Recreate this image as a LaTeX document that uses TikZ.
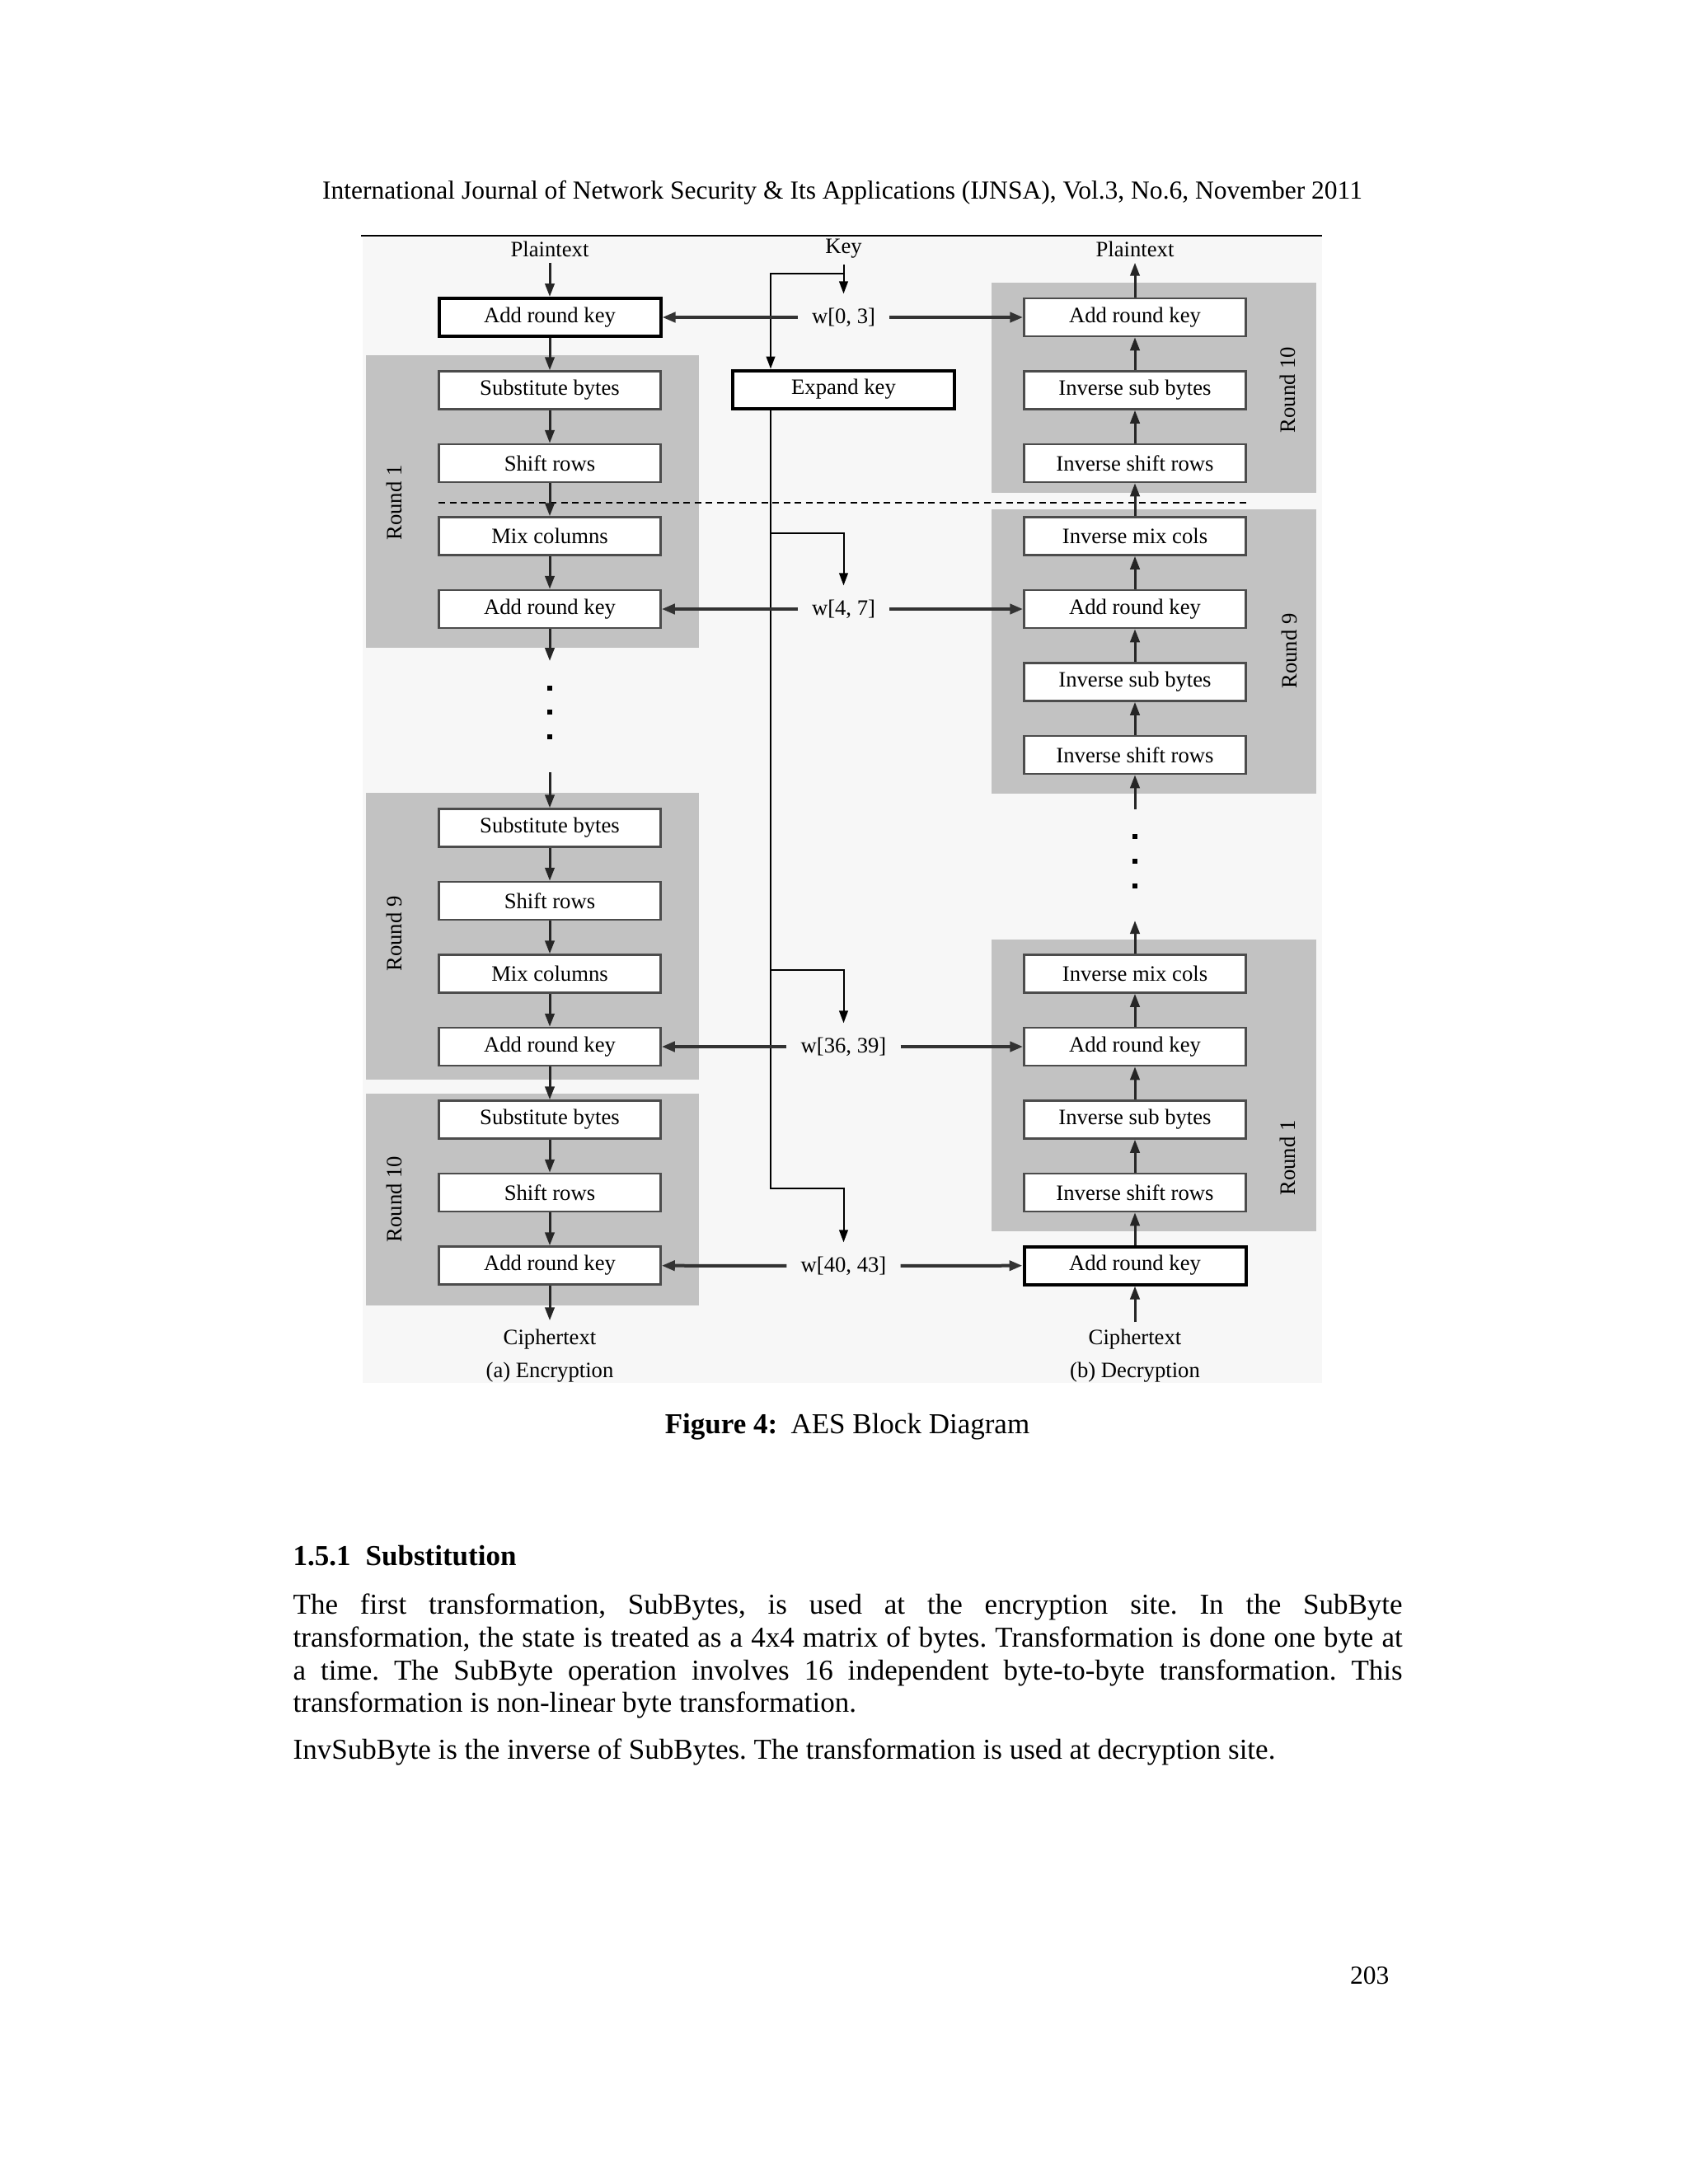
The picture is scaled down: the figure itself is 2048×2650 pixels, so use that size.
\documentclass[tikz,border=0pt]{standalone}
\usepackage{fontspec}
\setmainfont{Liberation Serif}
\usetikzlibrary{arrows.meta}
\begin{document}
\frenchspacing
\begin{tikzpicture}[x=0.3pt,y=-0.3pt,
  panel/.style={fill=black!24, draw=none},
  opbox/.style={draw=black!70, line width=0.75pt, fill=white, minimum width=80.7pt, minimum height=13.8pt, inner sep=0pt, font=\fontsize{8}{9}\selectfont},
  thickbox/.style={opbox, draw=black, line width=1.2pt},
  lbl/.style={font=\fontsize{8}{9}\selectfont, inner sep=0pt},
  wlbl/.style={font=\fontsize{8}{9}\selectfont, inner sep=5pt},
  rlbl/.style={lbl, rotate=90},
  flow/.style={draw=black!85, line width=0.9pt, -{Triangle[length=4.8pt,width=3.4pt]}},
  keyln/.style={draw=black, line width=0.6pt},
  keyarr/.style={keyln, -{Triangle[length=4.5pt,width=3.2pt]}},
  warr/.style={draw=black!80, line width=1.2pt, -{Triangle[length=4.8pt,width=3.6pt]}},
  dotsq/.style={fill=black, inner sep=0pt, minimum size=1.6pt},
  bodyf/.style={font=\fontsize{10.5}{12}\selectfont, inner sep=0pt},
  hdrf/.style={font=\fontsize{9.46}{11}\selectfont, inner sep=0pt},
]
\useasboundingbox (0,0) rectangle (2048,2650);
\fill[white] (0,0) rectangle (2048,2650);

% header
\node[hdrf, anchor=mid] (hdr) at (1022,234) {International Journal of Network Security \& Its Applications (IJNSA), Vol.3, No.6, November 2011};
\coordinate (ruleL) at (438,286);
\coordinate (ruleR) at (1604,286);
\draw[line width=0.8pt] (ruleL) -- (ruleR);

% figure background and panels
\fill[black!3] (440,288) rectangle (1604,1678);
\fill[panel] (444,431) rectangle (848,786);
\fill[panel] (444,962) rectangle (848,1310);
\fill[panel] (444,1327) rectangle (848,1584);
\fill[panel] (1203,343) rectangle (1597,598);
\fill[panel] (1203,618) rectangle (1597,963);
\fill[panel] (1203,1140) rectangle (1597,1494);

% round labels
\node[rlbl] (rl1) at (478,610) {Round 1};
\node[rlbl] (rl9) at (478,1133) {Round 9};
\node[rlbl] (rl10) at (478,1455) {Round 10};
\node[rlbl] (rr10) at (1562,473) {Round 10};
\node[rlbl] (rr9) at (1564,790) {Round 9};
\node[rlbl] (rr1) at (1562,1405) {Round 1};

% top/bottom labels
\node[lbl] (ptL) at (667,302) {Plaintext};
\node[lbl] (key) at (1023.5,302) {Key};
\node[lbl] (ptR) at (1377,302) {Plaintext};
\node[lbl] (ctL) at (667,1625) {Ciphertext};
\node[lbl] (ctR) at (1377,1625) {Ciphertext};
\node[lbl] (encL) at (667,1665) {(a) Encryption};
\node[lbl] (decR) at (1377,1665) {(b) Decryption};

% encryption boxes
\node[thickbox] (e0) at (667,385) {Add round key};
\node[opbox] (e1) at (667,473.5) {Substitute bytes};
\node[opbox] (e2) at (667,562) {Shift rows};
\node[opbox] (e3) at (667,650.5) {Mix columns};
\node[opbox] (e4) at (667,739) {Add round key};
\node[opbox] (e7) at (667,1004.5) {Substitute bytes};
\node[opbox] (e8) at (667,1093) {Shift rows};
\node[opbox] (e9) at (667,1181.5) {Mix columns};
\node[opbox] (e10) at (667,1270) {Add round key};
\node[opbox] (e11) at (667,1358.5) {Substitute bytes};
\node[opbox] (e12) at (667,1447) {Shift rows};
\node[opbox] (e13) at (667,1535.5) {Add round key};

% decryption boxes
\node[opbox] (d0) at (1377,385) {Add round key};
\node[opbox] (d1) at (1377,473.5) {Inverse sub bytes};
\node[opbox] (d2) at (1377,562) {Inverse shift rows};
\node[opbox] (d3) at (1377,650.5) {Inverse mix cols};
\node[opbox] (d4) at (1377,739) {Add round key};
\node[opbox] (d5) at (1377,827.5) {Inverse sub bytes};
\node[opbox] (d6) at (1377,916) {Inverse shift rows};
\node[opbox] (d9) at (1377,1181.5) {Inverse mix cols};
\node[opbox] (d10) at (1377,1270) {Add round key};
\node[opbox] (d11) at (1377,1358.5) {Inverse sub bytes};
\node[opbox] (d12) at (1377,1447) {Inverse shift rows};
\node[thickbox] (d13) at (1377,1535.5) {Add round key};

% key expansion
\node[opbox, draw=black, line width=1.2pt] (ek) at (1023.5,472.5) {Expand key};
\node[wlbl] (w0) at (1023.5,385) {w[0, 3]};
\node[wlbl] (w4) at (1023.5,739) {w[4, 7]};
\node[wlbl] (w36) at (1023.5,1270) {w[36, 39]};
\node[wlbl] (w40) at (1023.5,1536) {w[40, 43]};

% dashed separator
\coordinate (dsA) at (532,610);
\coordinate (dsB) at (1516,610);
\draw[black, line width=0.75pt, dash pattern=on 2.4pt off 1.65pt] (dsA) -- (dsB);

% encryption flow
\draw[flow, shorten <=2pt] (ptL) -- (e0);
\draw[flow] (e0) -- (e1);
\draw[flow] (e1) -- (e2);
\draw[flow] (e2) -- (e3);
\draw[flow] (e3) -- (e4);
\coordinate (ldA) at (667,802);
\coordinate (ldB) at (667,937);
\draw[flow] (e4) -- (ldA);
\draw[flow] (ldB) -- (e7);
\draw[flow] (e7) -- (e8);
\draw[flow] (e8) -- (e9);
\draw[flow] (e9) -- (e10);
\draw[flow] (e10) -- (e11);
\draw[flow] (e11) -- (e12);
\draw[flow] (e12) -- (e13);
\draw[flow, shorten >=3pt] (e13) -- (ctL);
\node[dotsq] (ld1) at (667,835) {};
\node[dotsq] (ld2) at (667,864) {};
\node[dotsq] (ld3) at (667,894) {};

% decryption flow
\draw[flow, shorten >=2pt] (d0) -- (ptR);
\draw[flow] (d1) -- (d0);
\draw[flow] (d2) -- (d1);
\draw[flow] (d3) -- (d2);
\draw[flow] (d4) -- (d3);
\draw[flow] (d5) -- (d4);
\draw[flow] (d6) -- (d5);
\coordinate (rdA) at (1377,982);
\coordinate (rdB) at (1377,1117);
\draw[flow] (rdA) -- (d6);
\draw[flow] (d9) -- (rdB);
\draw[flow] (d10) -- (d9);
\draw[flow] (d11) -- (d10);
\draw[flow] (d12) -- (d11);
\draw[flow] (d13) -- (d12);
\draw[flow, shorten <=2.4pt] (ctR) -- (d13);
\node[dotsq] (rd1) at (1377,1015) {};
\node[dotsq] (rd2) at (1377,1045) {};
\node[dotsq] (rd3) at (1377,1075) {};

% key paths
\coordinate (kj) at (1023.5,332);
\coordinate (kL) at (935,332);
\coordinate (b4) at (935,647);
\coordinate (b4r) at (1023.5,647);
\coordinate (b36) at (935,1177);
\coordinate (b36r) at (1023.5,1177);
\coordinate (t40) at (935,1442);
\coordinate (t40r) at (1023.5,1442);
\draw[keyarr, shorten <=2pt] (key) -- (w0);
\draw[keyarr] (kj) -- (kL) -- (kL |- ek.north);
\draw[keyarr] (ek.south -| kL) -- (t40) -- (t40r) -- (w40);
\draw[keyarr] (b4) -- (b4r) -- (w4);
\draw[keyarr] (b36) -- (b36r) -- (w36);

% round key arrows
\draw[warr] (w0) -- (e0);
\draw[warr] (w0) -- (d0);
\draw[warr] (w4) -- (e4);
\draw[warr] (w4) -- (d4);
\draw[warr] (w36) -- (e10);
\draw[warr] (w36) -- (d10);
\draw[warr] (w40) -- (e13);
\draw[warr] (w40) -- (d13);

% caption and text
\node[bodyf, anchor=mid] (cap) at (1028,1732) {\textbf{Figure 4:}\hspace{4.9pt}AES Block Diagram};
\node[bodyf, anchor=mid west] (sec) at (355,1892) {\textbf{1.5.1\hspace{5.4pt}Substitution}};
\node[bodyf, anchor=mid west] (l1) at (355,1951) {\makebox[403.8pt][s]{The first transformation, SubBytes, is used at the encryption site. In the SubByte}};
\node[bodyf, anchor=mid west] (l2) at (355,1991) {\makebox[403.8pt][s]{transformation, the state is treated as a 4x4 matrix of bytes. Transformation is done one byte at}};
\node[bodyf, anchor=mid west] (l3) at (355,2031) {\makebox[403.8pt][s]{a time. The SubByte operation involves 16 independent byte-to-byte transformation. This}};
\node[bodyf, anchor=mid west] (l4) at (355,2070) {transformation is non-linear byte transformation.};
\node[bodyf, anchor=mid west] (l5) at (355,2127) {InvSubByte is the inverse of SubBytes. The transformation is used at decryption site.};
\node[hdrf, anchor=mid east] (pg) at (1686,2400) {203};
\end{tikzpicture}
\end{document}
